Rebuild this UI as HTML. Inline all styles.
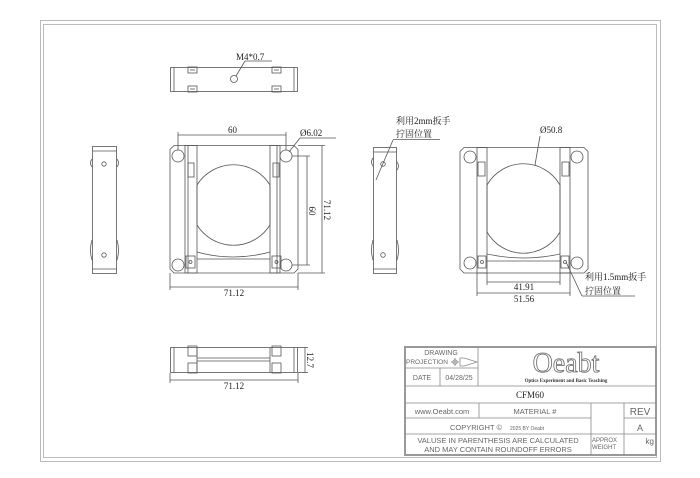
<!DOCTYPE html>
<html><head><meta charset="utf-8"><style>
html,body{margin:0;padding:0;background:#fff;}
svg{display:block}
text{font-family:"Liberation Serif","Noto Serif CJK SC",serif;fill:#222}
.s{font-family:"Liberation Sans",sans-serif;fill:#666}
</style></head><body>
<svg width="700" height="478" viewBox="0 0 700 478" xmlns="http://www.w3.org/2000/svg">
<rect x="0" y="0" width="700" height="478" fill="#fff"/>
<g fill="none" stroke="#bbb" stroke-width="1">
<rect x="40.5" y="20.5" width="620" height="441"/>
<rect x="43.5" y="24.5" width="613" height="433"/>
</g>
<g fill="none" stroke="#999" stroke-width="2"><rect x="405" y="347" width="251" height="108"/></g>
<g fill="none" stroke="#555" stroke-width="0.8">
<rect x="170.5" y="67.5" width="127" height="24"/>
<line x1="174" y1="67.5" x2="174" y2="91.5"/><line x1="294" y1="67.5" x2="294" y2="91.5"/>
<rect x="188" y="67" width="9" height="6"/><rect x="188" y="86" width="9" height="6"/>
<rect x="272" y="67" width="9" height="6"/><rect x="272" y="86" width="9" height="6"/>
<line x1="190" y1="70" x2="195" y2="70"/><line x1="190" y1="89" x2="195" y2="89"/>
<line x1="274" y1="70" x2="279" y2="70"/><line x1="274" y1="89" x2="279" y2="89"/>
<circle cx="234" cy="79" r="3.5"/>
<line x1="236" y1="76" x2="245" y2="61"/><line x1="245" y1="61" x2="272" y2="61"/>
<rect x="92.5" y="146.5" width="24" height="127"/>
<line x1="92.5" y1="151" x2="116.5" y2="151"/><line x1="92.5" y1="269" x2="116.5" y2="269"/>
<circle cx="104" cy="164" r="2.2"/><circle cx="104" cy="255" r="2.2"/>
<path d="M92 159 q-3 4 0 8 M117 159 q3 4 0 8 M92 240 q-3 10 0 20 M117 240 q3 10 0 20"/>
<path d="M174 145.5 H294 L298 149.5 V269 L294 273 H174 L170 269 V149.5 Z"/>
<circle cx="178" cy="156" r="6"/><circle cx="286" cy="156" r="6"/>
<circle cx="178" cy="265" r="6"/><circle cx="286" cy="265" r="6"/>
<rect x="185" y="145.5" width="12" height="127.5"/><line x1="188" y1="145.5" x2="188" y2="273"/>
<rect x="270" y="145.5" width="10" height="127.5"/><line x1="277" y1="145.5" x2="277" y2="273"/>
<rect x="188" y="163" width="6" height="14"/><rect x="273" y="163" width="6" height="14"/>
<path d="M197 185 A43 43 0 0 1 270 185"/><path d="M197 225 A43 43 0 0 0 270 225"/>
<line x1="197" y1="185" x2="197" y2="225"/><line x1="270" y1="185" x2="270" y2="225"/>
<path d="M197 252 Q233 262 270 252"/><line x1="197" y1="259" x2="270" y2="259"/>
<rect x="186" y="256" width="9" height="12"/><circle cx="190.5" cy="262" r="1.5"/>
<rect x="272" y="256" width="9" height="12"/><circle cx="276.5" cy="262" r="1.5"/>
<line x1="178" y1="135" x2="286" y2="135"/><line x1="178" y1="132" x2="178" y2="150"/><line x1="286" y1="132" x2="286" y2="150"/>
<line x1="289" y1="152" x2="300" y2="138"/><line x1="300" y1="138" x2="336" y2="138"/>
<line x1="292" y1="156" x2="310" y2="156"/><line x1="292" y1="265" x2="310" y2="265"/><line x1="307" y1="156" x2="307" y2="265"/>
<line x1="298" y1="145.5" x2="325" y2="145.5"/><line x1="298" y1="273" x2="325" y2="273"/><line x1="322" y1="145.5" x2="322" y2="273"/>
<line x1="170" y1="273" x2="170" y2="290"/><line x1="298" y1="273" x2="298" y2="290"/><line x1="170" y1="287" x2="298" y2="287"/>
<rect x="373.5" y="147.5" width="23" height="126"/>
<line x1="373.5" y1="152" x2="396.5" y2="152"/><line x1="373.5" y1="269" x2="396.5" y2="269"/>
<circle cx="383" cy="164" r="2.3"/><circle cx="383" cy="255" r="2.3"/>
<path d="M373 158 q-3 4 0 8 M397 162 q3 4 0 8 M373 240 q-3 10 0 20 M397 240 q3 10 0 20"/>
<line x1="376" y1="180" x2="393" y2="140"/><line x1="393" y1="139.5" x2="440" y2="139.5"/>
<path d="M464 147.5 H584 L588 151.5 V269 L584 273 H464 L460 269 V151.5 Z"/>
<circle cx="470" cy="157" r="6"/><circle cx="577" cy="157" r="6"/>
<circle cx="470" cy="263" r="6"/><circle cx="577" cy="263" r="6"/>
<rect x="477" y="147.5" width="10" height="125.5"/><rect x="560" y="147.5" width="10" height="125.5"/>
<rect x="478" y="162" width="7" height="14"/><rect x="562" y="162" width="7" height="14"/>
<path d="M487 185 A42 42 0 0 1 560 185"/><path d="M487 232 A42 42 0 0 0 560 232"/>
<line x1="487" y1="185" x2="487" y2="232"/><line x1="560" y1="185" x2="560" y2="232"/>
<path d="M487 254 Q524 262 560 254"/><line x1="487" y1="261" x2="560" y2="261"/>
<rect x="478" y="256" width="8" height="12"/><circle cx="482" cy="262" r="1.5"/>
<rect x="561" y="256" width="8" height="12"/><circle cx="565" cy="262" r="1.5"/>
<line x1="535" y1="165" x2="540" y2="136"/>
<line x1="487" y1="273" x2="487" y2="285"/><line x1="560" y1="273" x2="560" y2="285"/><line x1="487" y1="282" x2="560" y2="282"/>
<line x1="477" y1="273" x2="477" y2="296"/><line x1="570" y1="273" x2="570" y2="296"/><line x1="477" y1="293" x2="570" y2="293"/>
<line x1="566" y1="262" x2="582" y2="296"/><line x1="582" y1="296" x2="635" y2="296"/>
<rect x="170.5" y="347.5" width="127" height="25"/>
<line x1="174" y1="347.5" x2="174" y2="372.5"/><line x1="294" y1="347.5" x2="294" y2="372.5"/>
<line x1="197" y1="358" x2="270" y2="358"/><line x1="197" y1="361" x2="270" y2="361"/>
<line x1="197" y1="347.5" x2="197" y2="372.5"/><line x1="270" y1="347.5" x2="270" y2="372.5"/>
<rect x="188" y="346" width="9" height="10"/><rect x="188" y="363" width="9" height="10"/>
<rect x="272" y="346" width="9" height="10"/><rect x="272" y="363" width="9" height="10"/>
<line x1="298" y1="347.5" x2="308" y2="347.5"/><line x1="298" y1="372.5" x2="308" y2="372.5"/><line x1="305" y1="347.5" x2="305" y2="372.5"/>
<line x1="170" y1="373" x2="170" y2="383"/><line x1="298" y1="373" x2="298" y2="383"/><line x1="170" y1="380" x2="298" y2="380"/>
</g>
<g stroke="#888" stroke-width="0.8" fill="none">
<line x1="478" y1="347" x2="478" y2="386"/>
<line x1="405" y1="368" x2="478" y2="368"/>
<line x1="440" y1="368" x2="440" y2="386"/>
<line x1="405" y1="386" x2="656" y2="386"/>
<line x1="405" y1="403" x2="656" y2="403"/>
<line x1="479" y1="403" x2="479" y2="418"/>
<line x1="591" y1="403" x2="591" y2="455"/>
<line x1="624" y1="403" x2="624" y2="455"/>
<line x1="405" y1="418" x2="591" y2="418"/><line x1="624" y1="418" x2="656" y2="418"/>
<line x1="405" y1="434" x2="656" y2="434"/>
<circle cx="455" cy="362" r="2.2"/><line x1="451" y1="362" x2="459" y2="362"/><line x1="455" y1="358" x2="455" y2="366"/>
<path d="M460 358 H464 L477 362 L464 366 H460 Z"/>
</g>
<g font-size="9">
<text x="236" y="60">M4*0.7</text>
<text x="228" y="133">60</text>
<text x="300" y="136">Ø6.02</text>
<text transform="translate(309,211) rotate(90)" text-anchor="middle">60</text>
<text transform="translate(324,210) rotate(90)" text-anchor="middle">71.12</text>
<text x="234" y="296" text-anchor="middle">71.12</text>
<text x="396" y="124">利用2mm扳手</text>
<text x="396" y="137">拧固位置</text>
<text x="540" y="133">Ø50.8</text>
<text x="524" y="290" text-anchor="middle">41.91</text>
<text x="524" y="302" text-anchor="middle">51.56</text>
<text x="585" y="280">利用1.5mm扳手</text>
<text x="585" y="294">拧固位置</text>
<text transform="translate(307,360) rotate(90)" text-anchor="middle">12.7</text>
<text x="234" y="389" text-anchor="middle">71.12</text>
<text x="530" y="398" text-anchor="middle">CFM60</text>
</g>
<g font-size="7">
<text x="441" y="355" text-anchor="middle" class="s">DRAWING</text>
<text x="406" y="364" class="s" font-size="6.5">PROJECTION</text>
<text x="422" y="380" text-anchor="middle" class="s">DATE</text>
<text x="459" y="380" text-anchor="middle" class="s">04/28/25</text>
<text x="442" y="414" text-anchor="middle" class="s" font-size="7.5">www.Oeabt.com</text>
<text x="535" y="414" text-anchor="middle" class="s" font-size="7.5">MATERIAL #</text>
<text x="640" y="415" text-anchor="middle" class="s" font-size="10">REV</text>
<text x="640" y="431" text-anchor="middle" class="s" font-size="9">A</text>
<text x="476" y="430" text-anchor="middle" class="s" font-size="7.5">COPYRIGHT ©</text>
<text x="510" y="430" class="s" font-size="5">2025 BY Oeabt</text>
<text x="498" y="443" text-anchor="middle" class="s" font-size="7.5">VALUSE IN PARENTHESIS ARE CALCULATED</text>
<text x="498" y="452" text-anchor="middle" class="s" font-size="7.5">AND MAY CONTAIN ROUNDOFF ERRORS</text>
<text x="592" y="442" class="s" font-size="6">APPROX</text>
<text x="592" y="449" class="s" font-size="6">WEIGHT</text>
<text x="654" y="444" text-anchor="end" class="s" font-size="8">kg</text>
</g>
<text x="566" y="372" text-anchor="middle" font-family="Liberation Sans,sans-serif" font-size="28" stroke="#666" stroke-width="0.8" style="fill:none">Oeabt</text>
<text x="566" y="382" text-anchor="middle" font-family="Liberation Sans,sans-serif" font-size="5" font-weight="bold" style="fill:#333">Optics Experiment and Basic Teaching</text>
</svg>
</body></html>
